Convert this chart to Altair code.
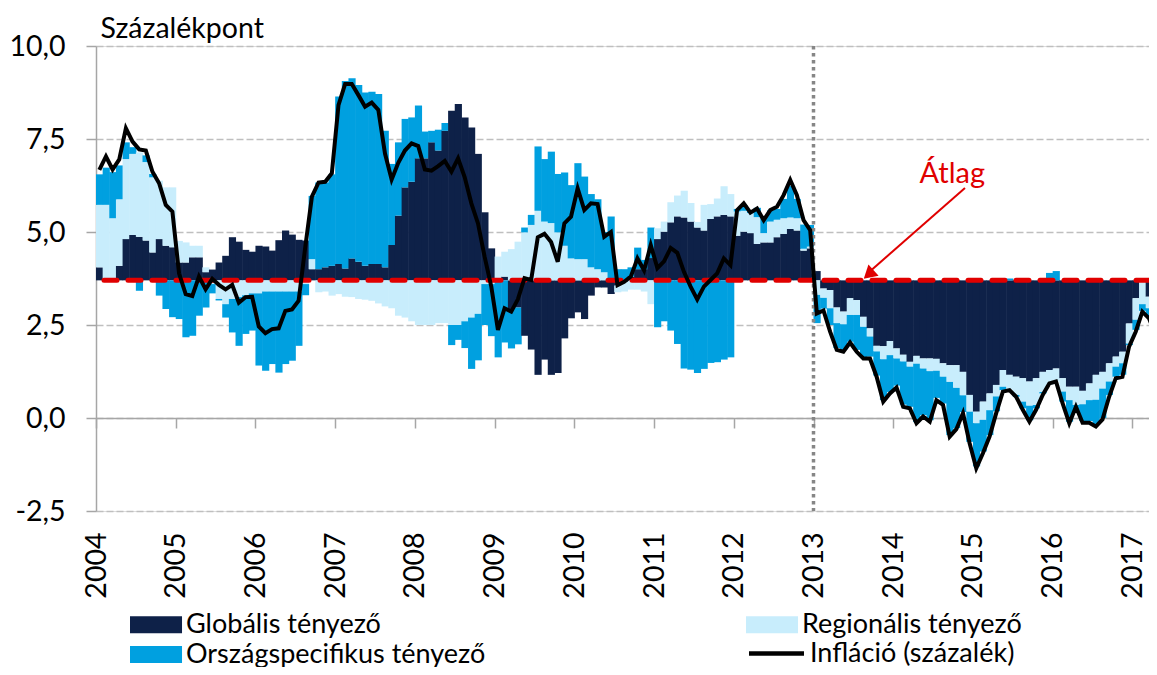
import altair as alt
import pandas as pd

AVG = 3.7  # "Átlag" baseline

glob = [0.35, 0.0, 0.0, 0.39, 1.11, 1.22, 1.17, 1.07, 0.75, 1.11, 0.93, 0.89,
        0.48, 0.48, 0.62, 0.62, 0.22, 0.29, 0.48, 0.66, 1.16, 1.04, 0.82, 0.77,
        0.93, 0.91, 0.80, 1.08, 1.34, 1.23, 1.09, 1.07, 0.30, 0.30, 0.35, 0.39,
        0.44, 0.32, 0.59, 0.50, 0.39, 0.44, 0.44, 0.35, 0.95, 1.74, 2.50, 2.65,
        3.28, 3.28, 3.71, 3.49, 4.02, 4.56, 4.74, 4.38, 4.11, 3.40, 1.83, 0.86,
        0.00, 0.10, -0.77, -0.73, -1.49, -1.86, -2.54, -2.13, -2.54, -2.49, -1.56, -1.02,
        -0.86, -1.04, -0.41, -0.19, -0.19, -0.37, -0.14, -0.05, 0.10, 0.30, 0.30, 0.60,
        1.11, 1.31, 1.56, 1.72, 1.69, 1.58, 1.42, 1.34, 1.65, 1.72, 1.76, 1.72,
        1.20, 1.31, 1.27, 0.98, 1.02, 1.02, 1.16, 1.25, 1.38, 1.34, 0.80, 0.86,
        0.25, -0.22, -0.26, -0.73, -0.84, -0.48, -0.53, -0.98, -1.29, -1.76, -1.77, -1.63,
        -1.83, -2.00, -2.19, -2.03, -2.10, -2.10, -2.11, -2.23, -2.28, -2.28, -2.46, -3.08,
        -3.53, -3.26, -3.04, -2.81, -2.41, -2.54, -2.59, -2.63, -2.72, -2.63, -2.46, -2.41,
        -2.37, -2.63, -2.86, -2.86, -2.97, -2.77, -2.54, -2.46, -2.23, -2.05, -1.92, -1.16,
        -0.48, -0.02, -0.44, -0.10]

regi = [1.68, 2.03, 1.67, 1.79, 2.15, 2.18, 2.27, 2.11, 2.02, 1.57, 1.57, 1.61,
        0.58, 0.54, 0.31, 0.31, 0.13, -0.10, -0.50, -0.64, -0.50, -0.45, -0.40, -0.35,
        -0.35, -0.30, -0.30, -0.30, -0.30, -0.30, -0.30, -0.10, 0.27, -0.32, -0.30, -0.41,
        -0.37, -0.44, -0.45, -0.50, -0.52, -0.55, -0.62, -0.70, -0.75, -0.95, -1.00, -1.10,
        -1.20, -1.20, -1.20, -1.15, -1.15, -1.20, -1.20, -1.10, -1.00, -0.90, -0.10, -0.10,
        0.64, 0.67, 0.84, 1.04, 1.29, 1.49, 1.87, 1.58, 1.54, 1.29, 0.93, 0.59,
        0.57, 0.57, 0.35, 0.30, 0.22, 0.05, -0.18, -0.25, -0.25, -0.25, -0.30, -0.64,
        0.29, 0.27, 0.54, 0.56, 0.72, 0.50, 0.15, 0.69, 0.40, 0.48, 0.77, 0.60,
        0.65, 0.56, 0.54, 0.72, 0.25, 0.56, 0.47, 0.42, 0.31, 0.33, 0.05, 0.05,
        -0.39, -0.25, -0.49, -0.42, -0.34, -0.45, -0.40, -0.27, -0.22, -0.15, -0.35, -0.38,
        -0.27, -0.18, -0.13, -0.21, -0.27, -0.34, -0.32, -0.36, -0.45, -0.61, -0.63, -0.45,
        -0.31, -0.49, -0.45, -0.31, -0.45, -0.40, -0.49, -0.63, -0.65, -0.72, -0.54, -0.40,
        -0.35, -0.36, -0.36, -0.49, -0.36, -0.45, -0.67, -0.45, -0.49, -0.27, -0.31, -0.54,
        -0.58, -0.62, -0.31, -0.60]

orsz = [0.82, 1.00, 1.24, 0.91, 0.45, 0.18, -0.28, 0.18, 0.09, -0.41, -0.77, -0.99,
        -1.04, -1.53, -1.49, -0.95, -0.73, -0.25, -0.04, -0.36, -0.90, -1.31, -1.04, -1.00,
        -1.94, -2.13, -1.95, -2.18, -1.95, -1.86, -1.46, -0.30, 1.70, 2.33, 2.28, 2.46,
        4.50, 5.04, 4.84, 4.75, 4.66, 4.63, 4.57, 3.67, 2.18, 1.97, 1.84, 1.73,
        1.42, 0.72, 0.31, 0.56, 0.21, -0.54, -0.40, -0.72, -1.38, -1.25, -1.10, -1.40,
        -2.07, -1.67, -1.06, -0.99, 0.13, 0.27, 1.73, 1.68, 1.92, 1.57, 1.97, 1.97,
        2.58, 2.22, 1.97, 1.88, 1.08, 1.67, 0.30, 0.30, 0.25, 0.58, 0.25, 0.82,
        -1.26, -1.10, -1.35, -1.71, -2.37, -2.40, -2.49, -2.38, -2.22, -2.20, -2.13, -2.07,
        0.07, 0.15, 0.05, 0.25, 0.40, 0.30, 0.29, 0.52, 0.85, 0.52, 0.65, 0.58,
        -0.76, -0.29, -0.45, -0.67, -0.69, -0.72, -0.94, -0.81, -0.54, -0.65, -1.10, -0.99,
        -0.73, -1.16, -1.08, -1.57, -1.25, -1.32, -0.73, -0.72, -1.43, -1.08, -0.45, -0.81,
        -1.16, -0.85, -0.67, -0.40, -0.09, 0.05, -0.05, -0.18, -0.39, -0.09, -0.04, 0.20,
        0.25, -0.27, -0.58, -0.18, -0.45, -0.56, -0.67, -0.79, -0.36, -0.27, -0.31, -0.04,
        -0.27, -0.18, -0.22, -0.70]

infl = [6.67, 7.03, 6.68, 6.95, 7.79, 7.43, 7.22, 7.19, 6.62, 6.31, 5.73, 5.55,
        3.89, 3.33, 3.28, 3.80, 3.46, 3.74, 3.58, 3.46, 3.58, 3.10, 3.25, 3.26,
        2.46, 2.28, 2.39, 2.41, 2.88, 2.92, 3.15, 4.60, 5.95, 6.33, 6.35, 6.58,
        8.41, 8.98, 8.98, 8.68, 8.37, 8.48, 8.28, 7.11, 6.41, 6.86, 7.19, 7.38,
        7.31, 6.68, 6.65, 6.77, 6.91, 6.62, 6.98, 6.47, 5.77, 5.23, 4.33, 3.53,
        2.37, 2.95, 2.86, 3.19, 3.76, 3.71, 4.86, 4.95, 4.73, 4.20, 5.23, 5.41,
        6.17, 5.59, 5.77, 5.75, 4.87, 5.00, 3.57, 3.66, 3.80, 4.29, 3.97, 4.65,
        4.03, 4.21, 4.57, 4.44, 3.93, 3.53, 3.19, 3.53, 3.71, 3.89, 4.29, 4.11,
        5.59, 5.77, 5.52, 5.63, 5.32, 5.59, 5.68, 5.99, 6.40, 5.99, 5.32, 5.05,
        2.81, 2.89, 2.32, 1.83, 1.78, 2.03, 1.78, 1.60, 1.60, 1.11, 0.44, 0.66,
        0.82, 0.30, 0.26, -0.14, 0.04, -0.10, 0.48, 0.35, -0.50, -0.30, 0.13, -0.68,
        -1.35, -0.95, -0.50, 0.13, 0.71, 0.75, 0.57, 0.22, -0.10, 0.22, 0.62, 0.93,
        0.98, 0.39, -0.14, 0.30, -0.13, -0.13, -0.23, -0.04, 0.57, 1.07, 1.11, 1.92,
        2.32, 2.86, 2.68, 2.23]

# stacking order (nearest the baseline first)
series_names = ["Globális tényező", "Regionális tényező", "Országspecifikus tényező"]
# legend order (filled column by column)
legend_order = ["Globális tényező", "Országspecifikus tényező", "Regionális tényező"]
legend_colors = ["#0E2148", "#00A0E0", "#C8EDFC"]
line_name = "Infláció (százalék)"
year_ticks = list(range(0, 157, 12))
first_year = 2004

months = list(range(len(infl)))
rows = []
for m in months:
    for k, vals in enumerate([glob, regi, orsz]):
        rows.append({"m": m, "comp": series_names[k], "ord": k, "d": vals[m]})
bars_df = pd.DataFrame(rows)
line_df = pd.DataFrame({"m": months, "infl": infl})

# annotation (data coordinates: month index, percentage points)
label_df = pd.DataFrame({"m": [128.9], "v": [6.32], "t": ["Átlag"]})
arrow_df = pd.DataFrame({"m": [130.8], "v": [6.18], "m2": [116.6], "v2": [3.96]})
head_df = pd.DataFrame({"m": [116.3], "v": [3.86]})

FONT = "Lato"
FS = 28.5
LFS = 27
xscale = alt.Scale(domain=[0, 158.5], nice=False, zero=False)
yscale = alt.Scale(domain=[-2.5, 10], nice=False, zero=False)

bars = alt.Chart(bars_df).transform_stack(
    stack="d", groupby=["m"], as_=["s0", "s1"], sort=[alt.SortField("ord", "ascending")], offset="zero"
).transform_calculate(
    y0=f"datum.s0 + {AVG}", y1=f"datum.s1 + {AVG}", mx="datum.m + 1.08"
).mark_rect(clip=True).encode(
    x=alt.X("m:Q", scale=xscale, axis=alt.Axis(
        values=year_ticks, labelExpr=f"toString({first_year} + datum.value / 12)",
        title=None, grid=False, offset=-93, tickSize=10, labelPadding=104,
        labelAngle=270, labelAlign="right", labelBaseline="middle",
        domainColor="#A6A6A6", tickColor="#A6A6A6", domainWidth=1.5, tickWidth=1.5,
        labelFont=FONT, labelFontSize=FS, labelColor="#000000")),
    x2="mx:Q",
    y=alt.Y("y0:Q", scale=yscale, axis=alt.Axis(
        values=[-2.5, 0, 2.5, 5, 7.5, 10],
        labelExpr="(datum.value < 0 ? '-' : '') + replace(format(abs(datum.value), '.1f'), '.', ',')",
        title="Százalékpont", titleAngle=0, titleAlign="left", titleBaseline="alphabetic",
        titleX=4, titleY=-9, titleFont=FONT, titleFontSize=FS, titleFontWeight="normal",
        titleColor="#000000",
        grid=True, gridDash=[7, 3], gridColor="#BFBFBF", gridWidth=1.5,
        tickSize=10, labelPadding=21, domainColor="#A6A6A6", tickColor="#A6A6A6",
        domainWidth=1.5, tickWidth=1.5,
        labelFont=FONT, labelFontSize=FS, labelColor="#000000")),
    y2="y1:Q",
    color=alt.Color("comp:N", scale=alt.Scale(domain=legend_order, range=legend_colors),
                    legend=alt.Legend(
                        title=None, orient="none", legendX=29, legendY=565,
                        columns=2, columnPadding=255, rowPadding=2,
                        symbolType="M-1,-1L5.12,-1L5.12,1L-1,1Z", symbolSize=289,
                        symbolStrokeWidth=0, symbolOpacity=1, labelOffset=34,
                        labelFont=FONT, labelFontSize=LFS, labelColor="#000000",
                        labelLimit=600, padding=0)),
)

avg_rule = alt.Chart(pd.DataFrame({"v": [AVG]})).mark_rule(
    color="#E00000", strokeWidth=5, strokeDash=[13, 11], strokeCap="round"
).encode(y=alt.Y("v:Q", scale=yscale))

vline = alt.Chart(pd.DataFrame({"m": [108]})).mark_rule(
    color="#868686", strokeWidth=3.5, strokeDash=[3.5, 3.5]
).encode(x=alt.X("m:Q", scale=xscale))

line = alt.Chart(line_df).transform_calculate(
    mc="datum.m + 0.5", series=f"'{line_name}'"
).mark_line(strokeWidth=4, clip=True).encode(
    x=alt.X("mc:Q", scale=xscale),
    y=alt.Y("infl:Q", scale=yscale),
    stroke=alt.Stroke("series:N", scale=alt.Scale(domain=[line_name], range=["#000000"]),
                      legend=alt.Legend(
                          title=None, orient="none", legendX=648, legendY=594,
                          symbolType="M-1,0L5.47,0", symbolSize=289, symbolStrokeWidth=4.5,
                          labelOffset=39, labelFont=FONT, labelFontSize=LFS,
                          labelColor="#000000", labelLimit=600, padding=0)),
)

arrow = alt.Chart(arrow_df).mark_rule(color="#E00000", strokeWidth=2).encode(
    x=alt.X("m:Q", scale=xscale), y=alt.Y("v:Q", scale=yscale), x2="m2:Q", y2="v2:Q")
head = alt.Chart(head_df).mark_point(
    shape="triangle-up", filled=True, color="#E00000", opacity=1, size=230, angle=228
).encode(x=alt.X("m:Q", scale=xscale), y=alt.Y("v:Q", scale=yscale))
label = alt.Chart(label_df).mark_text(
    color="#E00000", font=FONT, fontSize=29, align="center", baseline="alphabetic"
).encode(x=alt.X("m:Q", scale=xscale), y=alt.Y("v:Q", scale=yscale), text="t:N")

chart = alt.layer(bars, vline, avg_rule, line, arrow, head, label).resolve_scale(
    color="independent", stroke="independent"
).properties(
    width=1053, height=465,
    padding={"left": 88, "top": 38, "right": 0, "bottom": 156},
    autosize=alt.AutoSizeParams(type="none"),
).configure_view(stroke=None).configure(background="#FFFFFF")

chart.save("out.html", embed_options={"renderer": "svg", "actions": False})
